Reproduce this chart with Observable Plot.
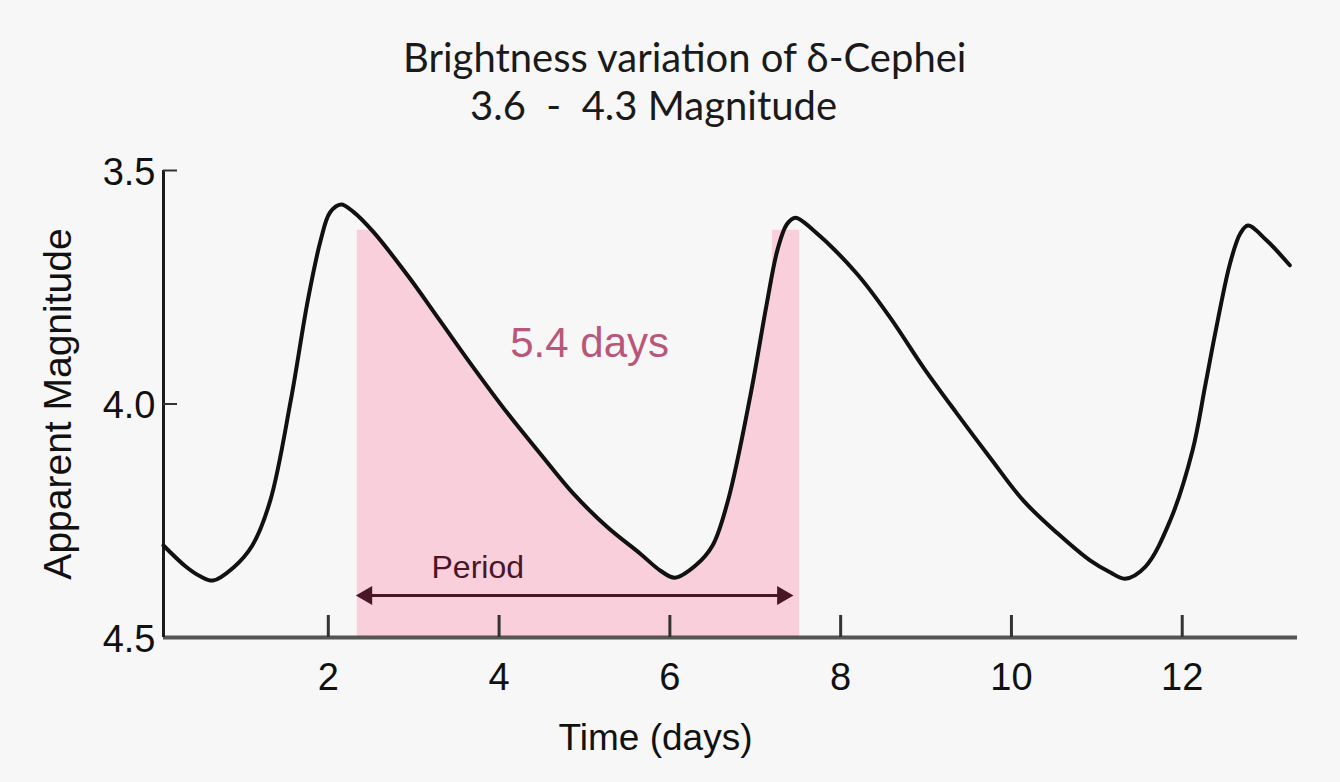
<!DOCTYPE html>
<html>
<head>
<meta charset="utf-8">
<script src="https://cdn.jsdelivr.net/npm/d3@7"></script>
<script src="https://cdn.jsdelivr.net/npm/@observablehq/plot@0.6"></script>
<style>
  html, body { margin: 0; padding: 0; background: #f7f7f7; }
  #wrap { position: relative; width: 1340px; height: 782px; overflow: hidden; }
  .title { position: absolute; font-family: Lato, "Open Sans", sans-serif; color: #1a1a1a; white-space: pre; font-size: 40px; line-height: 1; }
  #t1 { left: 403px; top: 37px; }
  #t2 { left: 470px; top: 85px; }
  #chart { position: absolute; left: 0; top: 140px; }
</style>
</head>
<body>
<div id="wrap">
  <div class="title" id="t1">Brightness variation of δ-Cephei</div>
  <div class="title" id="t2">3.6  -  4.3 Magnitude</div>
  <div id="chart"></div>
</div>
<script>
// Light curve of delta Cephei
const times = [0.07, 0.33, 0.50, 0.65, 0.89, 1.11, 1.32, 1.56, 1.76, 1.91, 2.02, 2.15, 2.29, 2.53, 2.93, 3.31, 3.70, 4.10, 4.48, 4.87, 5.27, 5.65, 5.89, 6.06, 6.30, 6.50, 6.68, 6.95, 7.13, 7.26, 7.37, 7.47, 7.68, 8.19, 8.58, 8.97, 9.36, 9.75, 10.14, 10.54, 10.92, 11.16, 11.33, 11.57, 11.86, 12.12, 12.27, 12.40, 12.56, 12.68, 12.77, 12.99, 13.26];
const mags  = [4.303, 4.348, 4.369, 4.378, 4.350, 4.303, 4.207, 3.993, 3.778, 3.650, 3.590, 3.573, 3.588, 3.632, 3.725, 3.822, 3.922, 4.020, 4.106, 4.192, 4.264, 4.320, 4.357, 4.372, 4.346, 4.303, 4.207, 3.975, 3.790, 3.670, 3.615, 3.601, 3.628, 3.721, 3.815, 3.922, 4.020, 4.115, 4.207, 4.277, 4.335, 4.361, 4.374, 4.348, 4.249, 4.100, 3.960, 3.836, 3.699, 3.635, 3.618, 3.650, 3.703];

const xDomain = [0.07, 13.35];
const yDomain = [4.5, 3.5];
const xTicks = [2, 4, 6, 8, 10, 12];
const yTicks = [3.5, 4.0, 4.5];
const yTickMarks = [3.5, 4.0];

// shaded period band
const shadeArea = [2.53, 7.26];
const shadeEdges = [[2.34, 2.53], [7.20, 7.52]];
const shadeTop = 3.628;

// period arrow
const arrowSpan = [2.38, 7.38];
const arrowMag = [4.41];
const arrowHeads = [{t: 2.45, rot: -90}, {t: 7.32, rot: 90}];

// annotations
const periodLabel = [{t: 3.75, mag: 4.35, text: "Period"}];
const daysLabel = [{t: 5.06, mag: 3.87, text: "5.4 days"}];

const curve = times.map((t, i) => ({t, mag: mags[i]}));
const pink = "#f8cfda";
const maroon = "#4a1526";

const chart = Plot.plot({
  width: 1340,
  height: 642,
  marginTop: 30,
  marginBottom: 145,
  marginLeft: 163,
  marginRight: 43,
  x: {domain: xDomain, axis: null},
  y: {domain: yDomain, axis: null},
  style: {background: "transparent", fontFamily: "'Liberation Sans', Arial, sans-serif", overflow: "visible"},
  marks: [
    Plot.areaY(curve, {filter: d => d.t >= shadeArea[0] && d.t <= shadeArea[1], x: "t", y1: 4.5, y2: d => Math.max(d.mag, shadeTop), fill: pink, curve: "catmull-rom"}),
    Plot.rect(shadeEdges, {x1: d => d[0], x2: d => d[1], y1: 4.5, y2: shadeTop, fill: pink}),
    // axes
    Plot.ruleY([4.5], {stroke: "#555", strokeWidth: 4}),
    Plot.ruleX([xDomain[0]], {y1: 3.5, y2: 4.5, stroke: "#1a1a1a", strokeWidth: 3}),
    Plot.tickX(xTicks, {x: d => d, insetTop: 445, stroke: "#333", strokeWidth: 3}),
    Plot.tickY(yTickMarks, {y: d => d, insetRight: 1120, stroke: "#333", strokeWidth: 2}),
    Plot.text(xTicks, {x: d => d, y: 4.5, dy: 40, text: d => String(d), fontSize: 38, fill: "#111"}),
    Plot.text(yTicks, {x: xDomain[0], y: d => d, dx: -8, dy: 2, textAnchor: "end", text: d => d.toFixed(1), fontSize: 38, fill: "#111"}),
    Plot.text(["Time (days)"], {frameAnchor: "bottom", textAnchor: "middle", dx: -75, dy: 112, text: d => d, fontSize: 37, fill: "#111"}),
    Plot.text(["Apparent Magnitude"], {frameAnchor: "left", textAnchor: "middle", dx: -105, rotate: -90, text: d => d, fontSize: 39, fill: "#111"}),
    // period arrow
    Plot.ruleY(arrowMag, {y: d => d, x1: arrowSpan[0], x2: arrowSpan[1], stroke: maroon, strokeWidth: 3}),
    Plot.dot(arrowHeads, {x: "t", y: arrowMag[0], rotate: "rot", symbol: "triangle", r: 7, fill: maroon, stroke: null}),
    // annotations
    Plot.text(periodLabel, {x: "t", y: "mag", text: "text", fontSize: 32, fill: maroon}),
    Plot.text(daysLabel, {x: "t", y: "mag", text: "text", fontSize: 42, fill: "#b9577a"}),
    // light curve
    Plot.line(curve, {x: "t", y: "mag", curve: "catmull-rom", stroke: "#111", strokeWidth: 4})
  ]
});
document.getElementById("chart").appendChild(chart);
</script>
</body>
</html>
